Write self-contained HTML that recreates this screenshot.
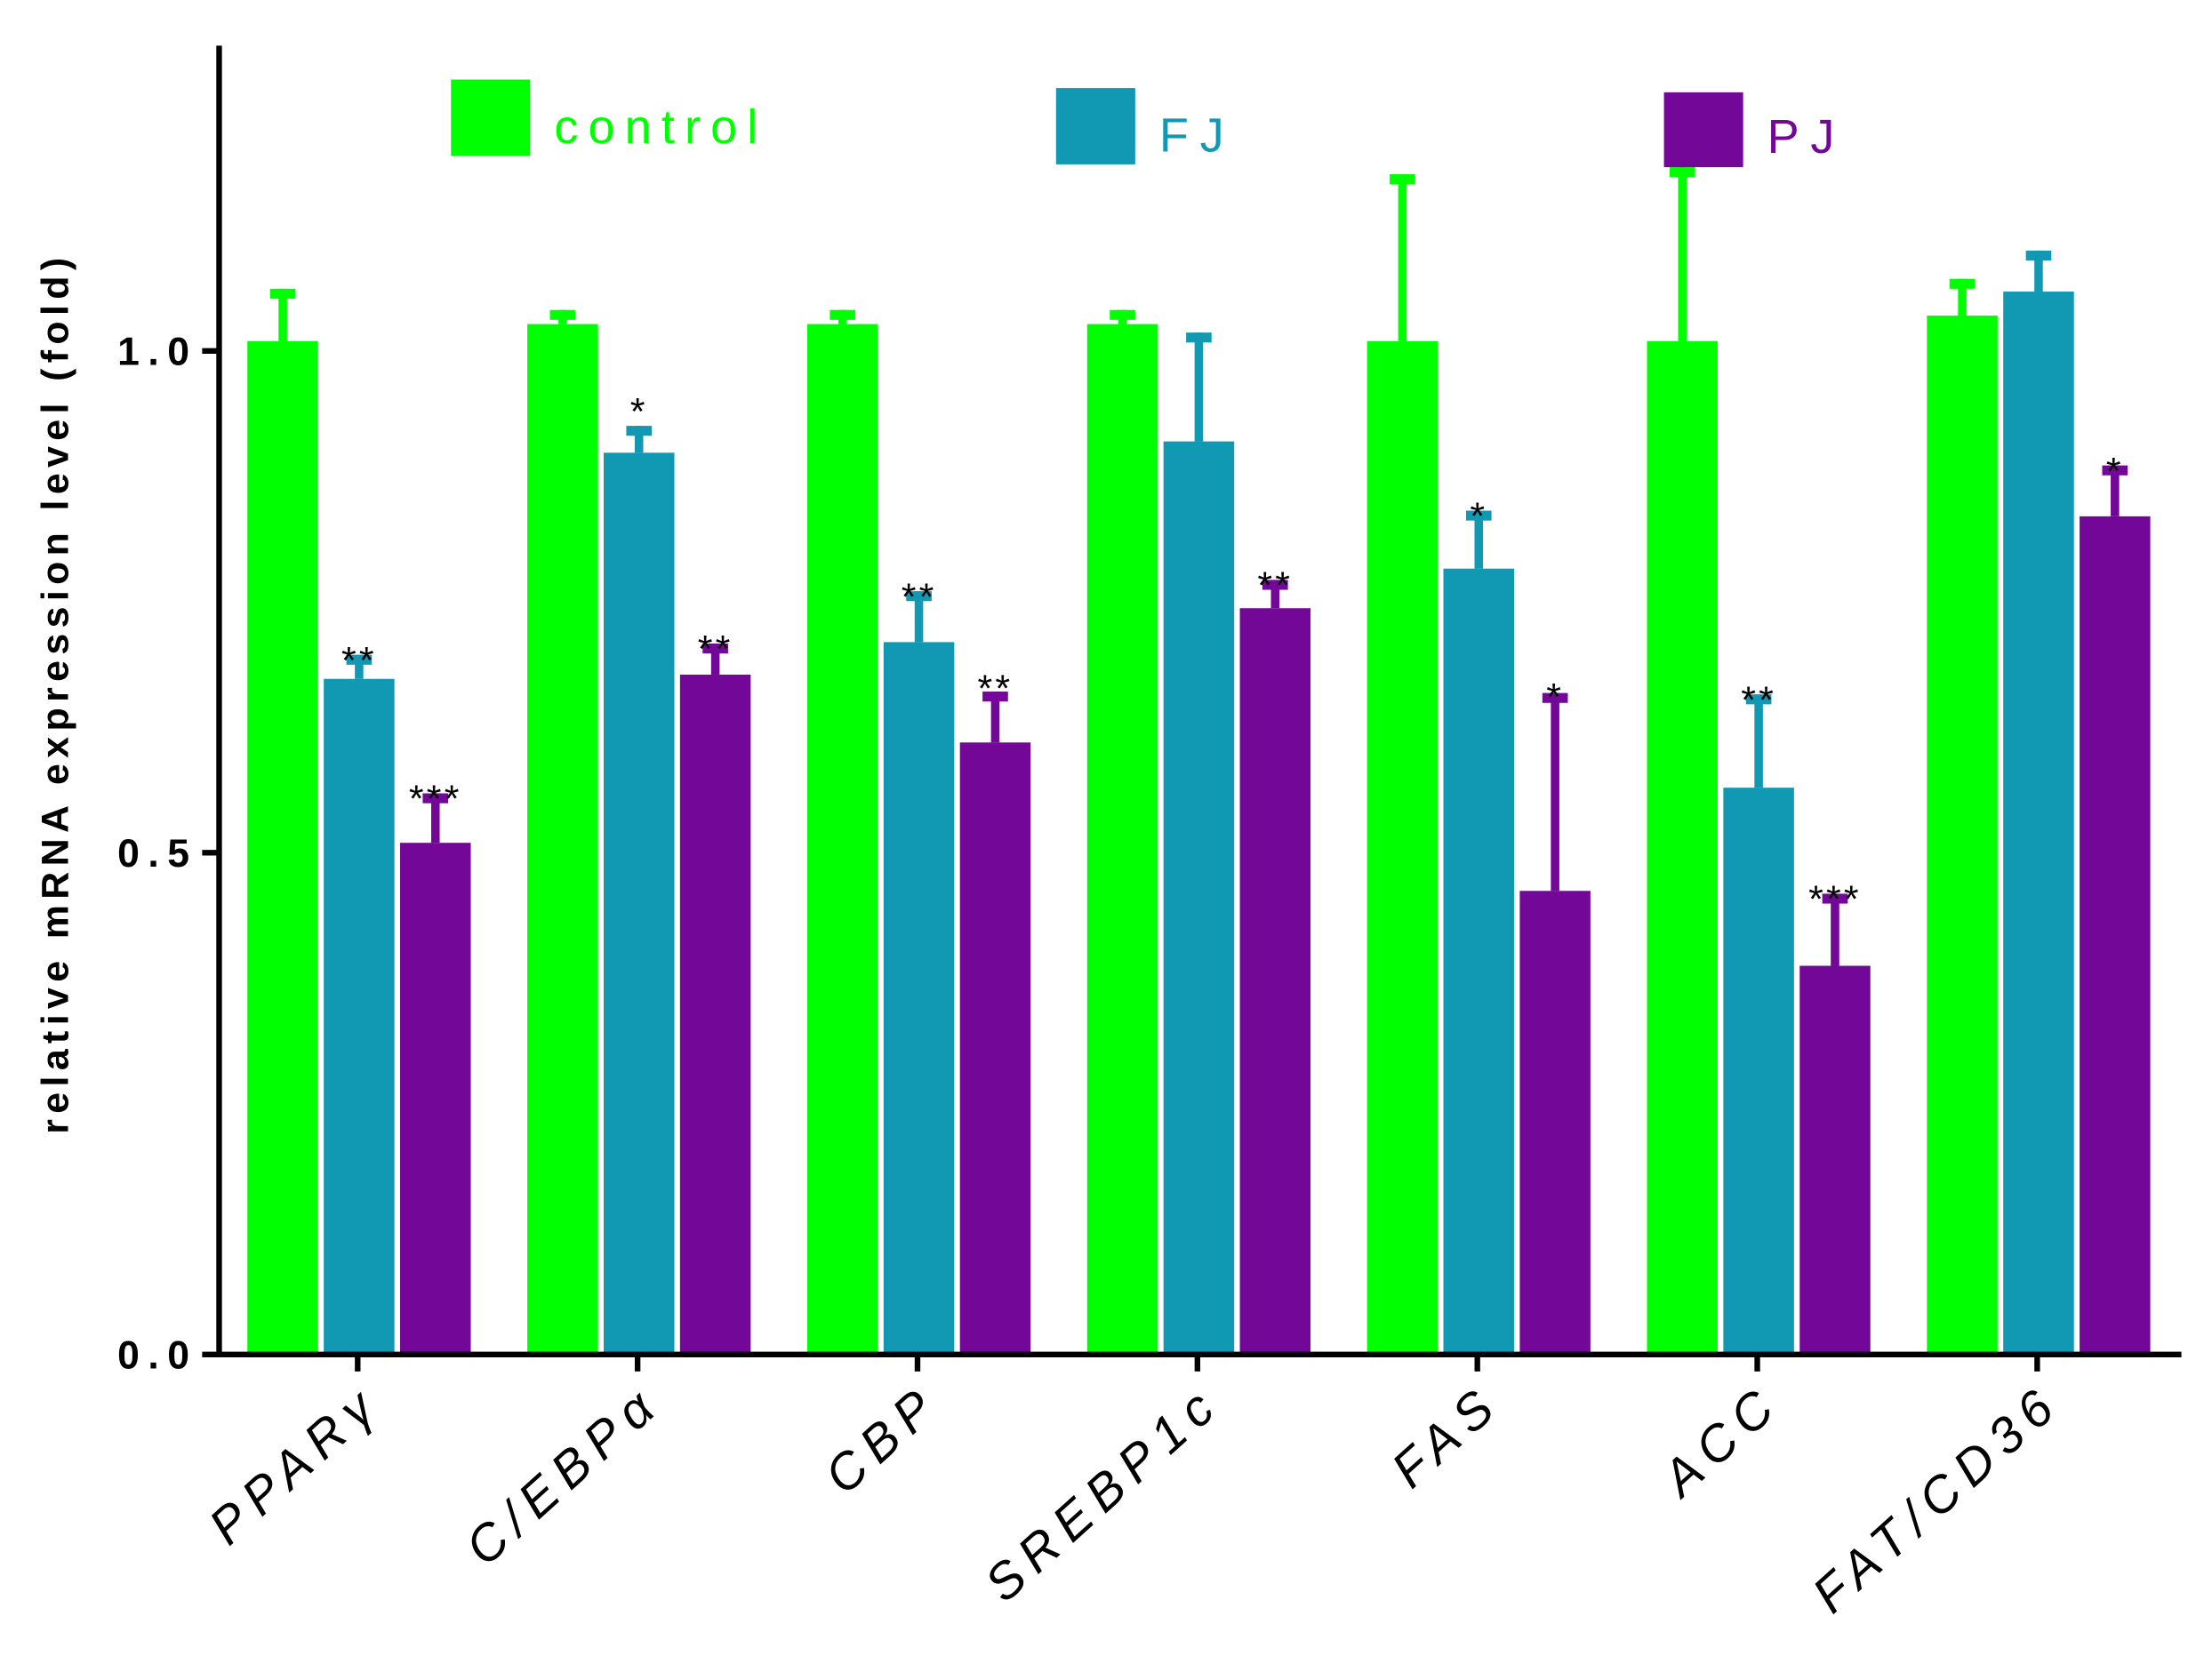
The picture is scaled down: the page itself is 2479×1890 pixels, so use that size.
<!DOCTYPE html>
<html><head><meta charset="utf-8"><style>html,body{margin:0;padding:0;background:#fff}svg{display:block}</style></head>
<body>
<svg width="2479" height="1890" viewBox="0 0 1559 1188" xmlns="http://www.w3.org/2000/svg" font-family="Liberation Sans, DejaVu Sans, sans-serif">
<rect width="1559" height="1188" fill="#fff"/>
<g fill="#00FF00">
<rect x="175" y="241" width="50" height="717"/><rect x="197" y="204" width="6" height="37"/><rect x="191" y="204" width="18" height="7"/>
<rect x="373" y="229" width="50" height="729"/><rect x="395" y="219" width="6" height="10"/><rect x="389" y="219" width="18" height="7"/>
<rect x="571" y="229" width="50" height="729"/><rect x="593" y="219" width="6" height="10"/><rect x="587" y="219" width="18" height="7"/>
<rect x="769" y="229" width="50" height="729"/><rect x="791" y="219" width="6" height="10"/><rect x="785" y="219" width="18" height="7"/>
<rect x="967" y="241" width="50" height="717"/><rect x="989" y="123" width="6" height="118"/><rect x="983" y="123" width="18" height="7"/>
<rect x="1165" y="241" width="50" height="717"/><rect x="1187" y="118" width="6" height="123"/><rect x="1181" y="118" width="18" height="7"/>
<rect x="1363" y="223" width="50" height="735"/><rect x="1385" y="197" width="6" height="26"/><rect x="1379" y="197" width="18" height="7"/>
</g>
<g fill="#1199B4">
<rect x="229" y="480" width="50" height="478"/><rect x="251" y="463" width="6" height="17"/><rect x="245" y="463" width="18" height="7"/>
<rect x="427" y="320" width="50" height="638"/><rect x="449" y="301" width="6" height="19"/><rect x="443" y="301" width="18" height="7"/>
<rect x="625" y="454" width="50" height="504"/><rect x="647" y="418" width="6" height="36"/><rect x="641" y="418" width="18" height="7"/>
<rect x="823" y="312" width="50" height="646"/><rect x="845" y="235" width="6" height="77"/><rect x="839" y="235" width="18" height="7"/>
<rect x="1021" y="402" width="50" height="556"/><rect x="1043" y="361" width="6" height="41"/><rect x="1037" y="361" width="18" height="7"/>
<rect x="1219" y="557" width="50" height="401"/><rect x="1241" y="491" width="6" height="66"/><rect x="1235" y="491" width="18" height="7"/>
<rect x="1417" y="206" width="50" height="752"/><rect x="1439" y="177" width="6" height="29"/><rect x="1433" y="177" width="18" height="7"/>
</g>
<g fill="#730898">
<rect x="283" y="596" width="50" height="362"/><rect x="305" y="561" width="6" height="35"/><rect x="299" y="561" width="18" height="7"/>
<rect x="481" y="477" width="50" height="481"/><rect x="503" y="455" width="6" height="22"/><rect x="497" y="455" width="18" height="7"/>
<rect x="679" y="525" width="50" height="433"/><rect x="701" y="489" width="6" height="36"/><rect x="695" y="489" width="18" height="7"/>
<rect x="877" y="430" width="50" height="528"/><rect x="899" y="410" width="6" height="20"/><rect x="893" y="410" width="18" height="7"/>
<rect x="1075" y="630" width="50" height="328"/><rect x="1097" y="490" width="6" height="140"/><rect x="1091" y="490" width="18" height="7"/>
<rect x="1273" y="683" width="50" height="275"/><rect x="1295" y="632" width="6" height="51"/><rect x="1289" y="632" width="18" height="7"/>
<rect x="1471" y="365" width="50" height="593"/><rect x="1493" y="329" width="6" height="36"/><rect x="1487" y="329" width="18" height="7"/>
</g>
<g font-size="27" text-anchor="middle" letter-spacing="2">
<text x="254" y="476">**</text><text x="308" y="574">***</text>
<text x="452" y="300">*</text><text x="506" y="468">**</text>
<text x="650" y="431">**</text><text x="704" y="496">**</text>
<text x="902" y="423">**</text>
<text x="1046" y="374">*</text><text x="1100" y="502">*</text>
<text x="1244" y="504">**</text><text x="1298" y="645">***</text>
<text x="1496" y="342">*</text>
</g>
<line x1="155" y1="32" x2="155" y2="960" stroke="#000" stroke-width="4"/>
<line x1="153" y1="958" x2="1543" y2="958" stroke="#000" stroke-width="4"/>
<g stroke="#000" stroke-width="4">
<line x1="143" y1="958" x2="155" y2="958"/><line x1="143" y1="603" x2="155" y2="603"/><line x1="143" y1="248" x2="155" y2="248"/>
<line x1="253" y1="958" x2="253" y2="970"/><line x1="451" y1="958" x2="451" y2="970"/><line x1="649" y1="958" x2="649" y2="970"/><line x1="847" y1="958" x2="847" y2="970"/><line x1="1045" y1="958" x2="1045" y2="970"/><line x1="1243" y1="958" x2="1243" y2="970"/><line x1="1441" y1="958" x2="1441" y2="970"/>
</g>
<g font-size="28" font-weight="bold" text-anchor="end" letter-spacing="6">
<text x="140" y="968">0.0</text><text x="140" y="613">0.5</text><text x="140" y="258">1.0</text>
</g>
<text transform="translate(48,490) rotate(-90)" font-size="27" font-weight="bold" text-anchor="middle" letter-spacing="4">relative mRNA expression level (fold)</text>
<g font-size="36" font-style="italic" text-anchor="end" letter-spacing="7">
<text transform="translate(272,995) rotate(-42)">PPARγ</text>
<text transform="translate(470,995) rotate(-42)">C/EBPα</text>
<text transform="translate(668,995) rotate(-42)">CBP</text>
<text transform="translate(866,995) rotate(-42)">SREBP1c</text>
<text transform="translate(1064,995) rotate(-42)">FAS</text>
<text transform="translate(1262,995) rotate(-42)">ACC</text>
<text transform="translate(1460,995) rotate(-42)">FAT/CD36</text>
</g>
<rect x="319" y="56" width="56" height="54" fill="#00FF00"/>
<text x="392" y="101" font-size="34" fill="#00FF00" letter-spacing="7">control</text>
<rect x="747" y="62" width="56" height="54" fill="#1199B4"/>
<text x="820" y="107" font-size="34" fill="#1199B4" letter-spacing="8">FJ</text>
<rect x="1177" y="65" width="56" height="53" fill="#730898"/>
<text x="1250" y="108" font-size="34" fill="#730898" letter-spacing="8">PJ</text>
</svg>
</body></html>
